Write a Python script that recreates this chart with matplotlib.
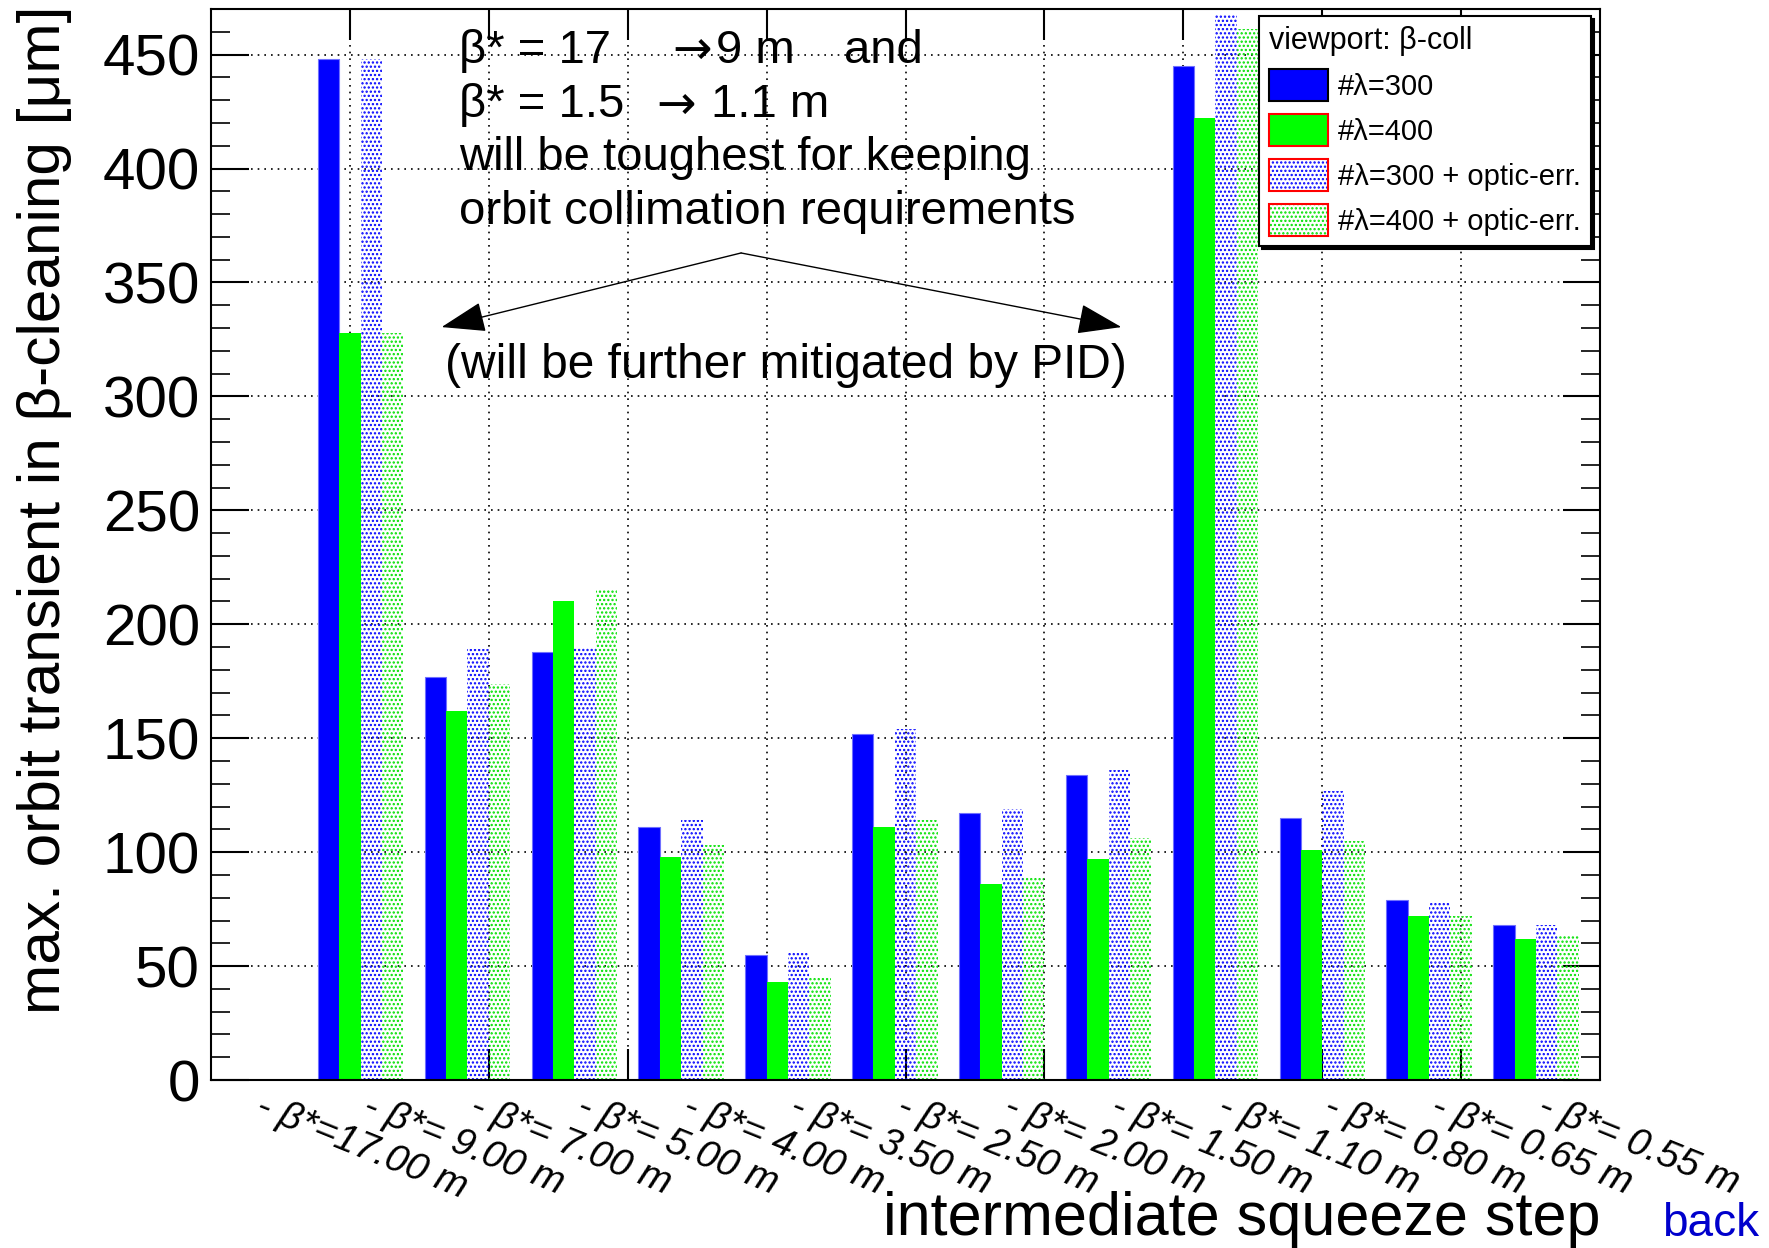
import numpy as np
import matplotlib.pyplot as plt
import matplotlib.patches as mpatches

plt.rcParams['font.family'] = ['Liberation Sans', 'DejaVu Sans']
plt.rcParams['hatch.linewidth'] = 1.1

# squeeze steps (bin labels)
steps = ["17.00", " 9.00", " 7.00", " 5.00", " 4.00", " 3.50", " 2.50",
         " 2.00", " 1.50", " 1.10", " 0.80", " 0.65", " 0.55"]
tick_labels = ["- β*=" + s + " m" for s in steps]

# max. orbit transient [um]
lam300 = [0, 448, 177, 188, 111, 55, 152, 117, 134, 445, 115, 79, 68]
lam400 = [0, 328, 162, 210, 98, 43, 111, 86, 97, 422, 101, 72, 62]
lam300_err = [0, 448, 189, 190, 114, 56, 154, 119, 136, 468, 127, 78, 68]
lam400_err = [0, 328, 174, 215, 103, 45, 114, 89, 106, 461, 105, 72, 63]

legend_labels = ["#λ=300", "#λ=400", "#λ=300 + optic-err.", "#λ=400 + optic-err."]

fig = plt.figure(figsize=(17.69, 12.48), dpi=100)
ax = fig.add_axes([0.1193, 0.1346, 0.7852, 0.8582])

x = np.arange(len(steps))
styles = [
    dict(color="#0000ff", edgecolor="#7070ff", lw=0.8),
    dict(color="#00ff00", lw=0),
    dict(facecolor="none", edgecolor="#0000ff", hatch="....", lw=0),
    dict(facecolor="none", edgecolor="#00e000", hatch="....", lw=0),
]
for j, (vals, kw) in enumerate(zip([lam300, lam400, lam300_err, lam400_err], styles)):
    ax.bar(x + 0.2 * j, vals, width=0.2, align="edge", **kw)

ax.set_xlim(0, len(steps))
ax.set_ylim(0, 470)

# x axis: ROOT style divisions + bin labels
ax.xaxis.remove_overlapping_locs = False
ax.set_xticks(np.arange(1, 10) * len(steps) / 10)
ax.set_xticks(x + 0.5, labels=tick_labels, minor=True)
ax.tick_params(axis="x", which="major", direction="in", length=22, width=1.5,
               top=True, labelbottom=False)
ax.tick_params(axis="x", which="minor", length=0, pad=6, labelsize=28)
for lab in ax.get_xticklabels(minor=True):
    lab.set_rotation(-22)
    lab.set_ha("left")
    lab.set_va("top")
    lab.set_rotation_mode("anchor")
    lab.set_fontstyle("italic")

ax.yaxis.set_major_locator(plt.MultipleLocator(50))
ax.yaxis.set_minor_locator(plt.MultipleLocator(10))
ax.tick_params(axis="y", which="major", direction="in", length=27, width=1.5,
               right=True, labelsize=42, pad=8)
ax.tick_params(axis="y", which="minor", direction="in", length=14, width=1.2,
               right=True)

ax.set_axisbelow(True)
ax.grid(True, which="major", color="k", ls=(0, (1, 3)), lw=1.2)
for sp in ax.spines.values():
    sp.set_linewidth(1.5)

ax.set_ylabel("max. orbit transient in β-cleaning [μm]", fontsize=43.5, loc="top")
ax.yaxis.set_label_coords(-0.1, 1.003)
ax.set_xlabel("intermediate squeeze step", fontsize=44, loc="right")
ax.xaxis.set_label_coords(1, -0.104)

# annotation text, one piece at a time (axes fraction, baseline aligned)
note = dict(transform=ax.transAxes, ha="left", va="baseline", fontsize=34)
ax.text(0.1785, 0.9493, "β* = 17", **note)
ax.text(0.3255, 0.9493, "$\\rightarrow$", **note)
ax.text(0.3636, 0.9493, "9 m", **note)
ax.text(0.4557, 0.9493, "and", **note)
ax.text(0.1785, 0.8987, "β* = 1.5", **note)
ax.text(0.3136, 0.8987, "$\\rightarrow$", **note)
ax.text(0.3600, 0.8987, "1.1 m", **note)
ax.text(0.1785, 0.8492, "will be toughest for keeping", **note)
ax.text(0.1785, 0.7997, "orbit collimation requirements", **note)
ax.text(0.4136, 0.667, "(will be further mitigated by PID)",
        transform=ax.transAxes, ha="center", va="center", fontsize=34.5)

arrow = dict(arrowstyle="-|>,head_length=0.7,head_width=0.24", mutation_scale=40,
             color="k", lw=1, shrinkA=0, shrinkB=0)
ax.annotate("", xy=(0.166, 0.703), xytext=(0.3816, 0.7722),
            xycoords="axes fraction", arrowprops=arrow)
ax.annotate("", xy=(0.6554, 0.703), xytext=(0.3816, 0.7722),
            xycoords="axes fraction", arrowprops=arrow)

# legend
h1 = mpatches.Patch(facecolor="#0000ff", edgecolor="k", lw=1.5)
h2 = mpatches.Patch(facecolor="#00ff00", edgecolor="red", lw=1.5)
h3 = (mpatches.Patch(facecolor="white", edgecolor="#0000ff", hatch="....", lw=0),
      mpatches.Patch(facecolor="none", edgecolor="red", lw=1.5))
h4 = (mpatches.Patch(facecolor="white", edgecolor="#00e000", hatch="....", lw=0),
      mpatches.Patch(facecolor="none", edgecolor="red", lw=1.5))
leg = ax.legend([h1, h2, h3, h4], legend_labels, title="viewport: β-coll",
                loc="upper right", bbox_to_anchor=(0.9935, 0.9935),
                fontsize=21, title_fontsize=22, alignment="left",
                fancybox=False, edgecolor="k", framealpha=1,
                shadow={"color": "k", "alpha": 1},
                handlelength=2.0, handleheight=1.3, handletextpad=0.35,
                labelspacing=0.45, borderpad=0.35, borderaxespad=0)
leg.get_frame().set_linewidth(1.5)

fig.text(0.9395, 0.002, "back", color="#0000cc", fontsize=33, va="bottom")

fig.savefig("out.png", dpi=100)
